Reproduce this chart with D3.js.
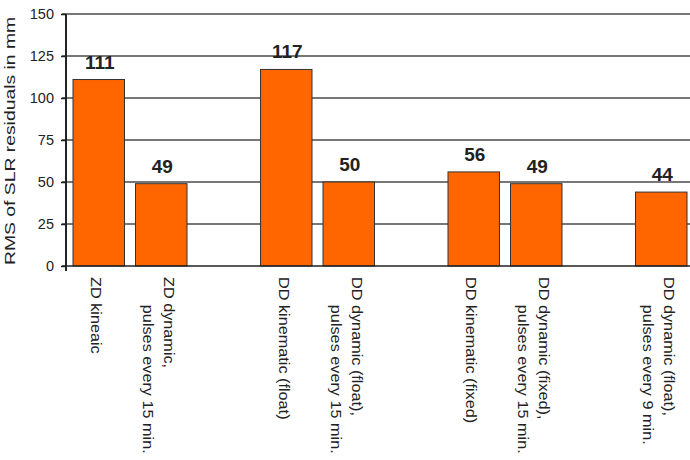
<!DOCTYPE html>
<html>
<head>
<meta charset="utf-8">
<script src="https://cdn.jsdelivr.net/npm/d3@7"></script>
<style>
  body { margin: 0; background: #fff; }
  svg { font-family: "Liberation Sans", Arial, sans-serif; }
</style>
</head>
<body>
<div id="chart"></div>
<script>
// slots with null are the empty gaps between the groups
const labels = [
  ["ZD kineaic"],
  ["ZD dynamic,", "pulses every 15 min."],
  null,
  ["DD kinematic (float)"],
  ["DD dynamic (float),", "pulses every 15 min."],
  null,
  ["DD kinematic (fixed)"],
  ["DD dynamic (fixed),", "pulses every 15 min."],
  null,
  ["DD dynamic (float),", "pulses every 9 min."]
];
const values = [111, 49, null, 117, 50, null, 56, 49, null, 44];
const yTicks = [0, 25, 50, 75, 100, 125, 150];
const yTitle = "RMS of SLR residuals in  mm";

const width = 690, height = 460;
const plotL = 66, plotT = 14, plotB = 266, plotR = 690;

const svg = d3
  .select("#chart")
  .append("svg")
  .attr("width", width)
  .attr("height", height);

const x = d3
  .scaleBand()
  .domain(d3.range(labels.length))
  .range([plotL, 694])
  .paddingInner(0.176)
  .paddingOuter(0.112);

const y = d3.scaleLinear().domain([0, 150]).range([plotB, plotT]);

// grid lines
svg
  .selectAll(".grid")
  .data(yTicks.filter((d) => d > 0))
  .join("line")
  .attr("x1", plotL - 4)
  .attr("x2", plotR)
  .attr("y1", (d) => y(d))
  .attr("y2", (d) => y(d))
  .attr("stroke", "#4a4a4a")
  .attr("stroke-width", 1.5);

// y axis
const yAxis = d3
  .axisLeft(y)
  .tickValues(yTicks)
  .tickSize(5)
  .tickPadding(7);
const ya = svg
  .append("g")
  .attr("transform", `translate(${plotL},0)`)
  .call(yAxis);
ya.select(".domain").remove();
ya.selectAll(".tick line").attr("stroke", "#222").attr("stroke-width", 1.5);
ya.selectAll(".tick text")
  .attr("font-size", 14.5)
  .attr("fill", "#222")
  .style("font-family", "Liberation Sans, Arial, sans-serif");

svg
  .append("line")
  .attr("x1", plotL)
  .attr("x2", plotL)
  .attr("y1", plotT)
  .attr("y2", plotB + 5)
  .attr("stroke", "#222")
  .attr("stroke-width", 2);

// bars
const bars = values
  .map((v, i) => ({ i, v }))
  .filter((d) => d.v != null);

svg
  .selectAll(".bar")
  .data(bars)
  .join("rect")
  .attr("x", (d) => x(d.i))
  .attr("y", (d) => y(d.v))
  .attr("width", x.bandwidth())
  .attr("height", (d) => y(0) - y(d.v))
  .attr("fill", "#ff6600")
  .attr("stroke", "#333")
  .attr("stroke-width", 1);

svg
  .selectAll(".val")
  .data(bars)
  .join("text")
  .attr("x", (d) => x(d.i) + x.bandwidth() / 2 + 1)
  .attr("y", (d) => y(d.v) - 11)
  .attr("text-anchor", "middle")
  .attr("font-size", 19)
  .attr("font-weight", "bold")
  .attr("fill", "#222")
  .text((d) => d.v);

// x axis line
svg
  .append("line")
  .attr("x1", plotL - 4)
  .attr("x2", plotR)
  .attr("y1", plotB)
  .attr("y2", plotB)
  .attr("stroke", "#222")
  .attr("stroke-width", 1.5);

// category labels, rotated to read downwards
const catG = svg
  .selectAll(".cat")
  .data(labels.map((l, i) => ({ l, i })).filter((d) => d.l))
  .join("text")
  .attr("font-size", 14)
  .attr("fill", "#222")
  .attr(
    "transform",
    (d) =>
      `translate(${x(d.i) + x.bandwidth() / 2},277) rotate(90) scale(1.16,1)`
  );

catG
  .selectAll("tspan")
  .data((d) => d.l.map((t, j) => ({ t, j, n: d.l.length })))
  .join("tspan")
  .attr("x", (d) => (d.j > 0 ? 24 : 0))
  .attr("y", (d) => 7.5 + (d.j - (d.n - 1) / 2) * 21)
  .text((d) => d.t);

// y title
svg
  .append("text")
  .attr("transform", "translate(15,141) rotate(-90) scale(1.29,1)")
  .attr("text-anchor", "middle")
  .attr("font-size", 15)
  .attr("fill", "#222")
  .text(yTitle);
</script>
</body>
</html>
